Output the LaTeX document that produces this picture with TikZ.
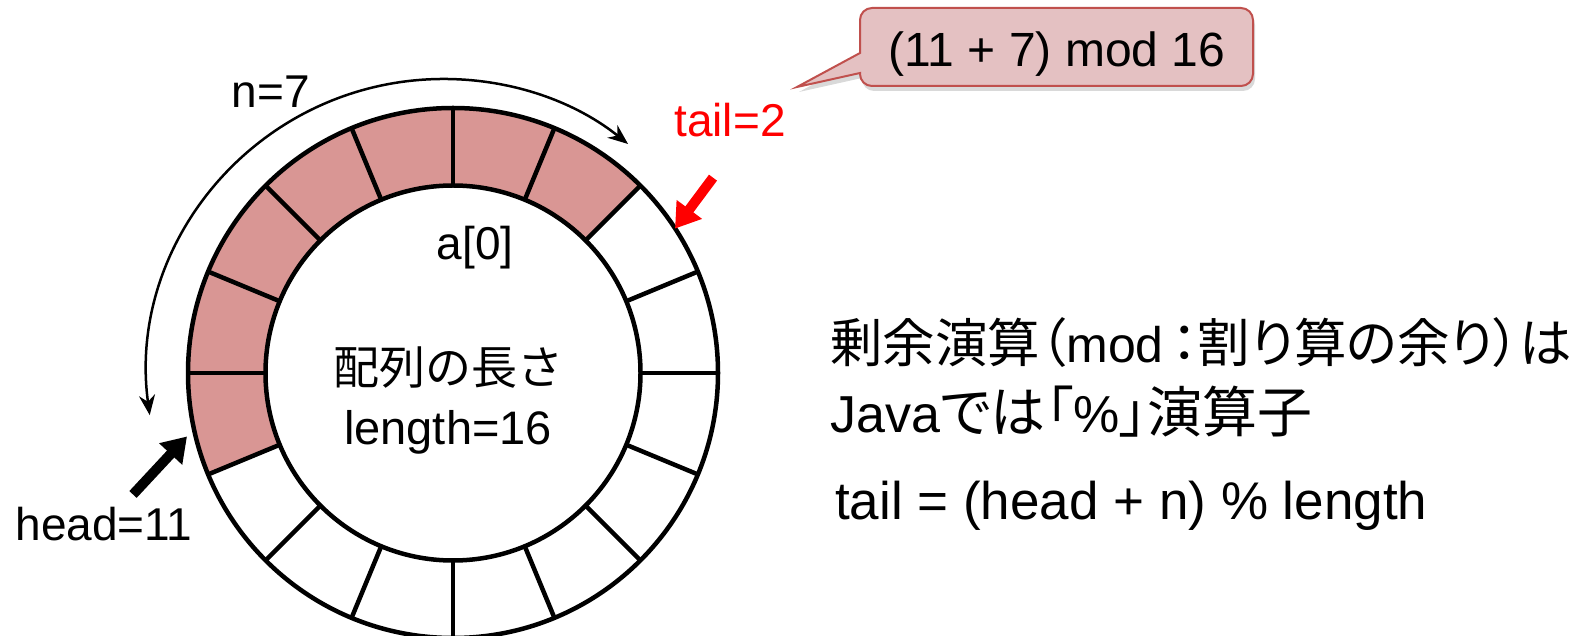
\documentclass[tikz,border=0pt]{standalone}
\usepackage{fontspec}
\setmainfont{Liberation Sans}
\newfontfamily\jpfont{Noto Sans CJK JP}
\newfontfamily\jpprop[RawFeature=+palt]{Noto Sans CJK JP}
\newcommand\jptext[2][55]{{\fontsize{#1}{70}\selectfont\jpprop #2}}
\usetikzlibrary{arrows.meta,shadows}
\definecolor{cellred}{RGB}{217,150,148}
\definecolor{notefill}{RGB}{228,193,194}
\definecolor{noteline}{RGB}{192,80,77}
\begin{document}
\begin{tikzpicture}[x=1pt,y=1pt,
	ring/.style={line width=4.5pt},
	lbl/.style={font=\fontsize{46}{55}\selectfont, inner sep=0pt, anchor=base},
	big/.style={font=\fontsize{52}{70}\selectfont, inner sep=0pt, anchor=base west},
	fat/.style={line width=10pt, -{Triangle[length=24pt,width=30pt]}}]
\useasboundingbox (0,0) rectangle (1583,635);
% ring buffer, 16 cells, head=11 .. tail=2
\begin{scope}[shift={(453,262)}]
	\fill[cellred] (45:187.5) -- (45:265) arc[start angle=45,end angle=202.5,radius=265] -- (202.5:187.5) arc[start angle=202.5,end angle=45,radius=187.5] -- cycle;
	\draw[ring] (0,0) circle[radius=265];
	\draw[ring] (0,0) circle[radius=187.5];
	\foreach \a in {0,22.5,...,337.5}
		\draw[ring] (\a:187.5)--(\a:265);
\end{scope}
\node[lbl] (a0) at (475,375) {a[0]};
\node[lbl] (name) at (448,250) {\jpfont 配列の長さ};
\node[lbl,font=\fontsize{47}{55}\selectfont] (len) at (448,190) {length=16};
\node[lbl] (n) at (271,527) {n=7};
\node[lbl] (head) at (104,95) {head=11};
\node[lbl,text=red] (tail) at (730,498) {tail=2};
% arrows to the cells
\draw[fat] ([xshift=29pt,yshift=12pt]head.north) -- ([xshift=83pt,yshift=70pt]head.north);
\draw[fat,red] ([xshift=-17pt,yshift=-40pt]tail.south) -- ([xshift=-55pt,yshift=-91pt]tail.south);
\coordinate (nc) at (443,260);
\draw[line width=2.5pt,{Stealth[length=20pt,width=16pt]}-{Stealth[length=20pt,width=16pt]}] (nc) ++(187.8:296) arc[start angle=187.8,end angle=51.3,radius=296];
% callout
\draw[fill=notefill,draw=noteline,line width=2pt,drop shadow={shadow xshift=2pt,shadow yshift=-5pt,opacity=.3}] (797,548) -- (860,562) -- (860,561) arc[start angle=180,end angle=270,radius=12] -- (1241,549) arc[start angle=270,end angle=360,radius=12] -- (1253,615) arc[start angle=0,end angle=90,radius=12] -- (872,627) arc[start angle=90,end angle=180,radius=12] -- (860,582) -- cycle;
\node[lbl,font=\fontsize{48}{55}\selectfont] (calc) at (1057,568) {(11 + 7) mod 16};
% text on the right
\node[big,align=left] (rule) at (830,202) {\jptext[52.5]{剰余演算（}{\fontsize{50}{70}\selectfont mod}\kern8pt\jptext[52.5]{：割り算の余り）は}\\Java\jptext{では「}\%\jptext{」演算子}};
\node[big,font=\fontsize{53}{63}\selectfont] (formula) at (835,115) {tail = (head + n) \% length};
\end{tikzpicture}
\end{document}
